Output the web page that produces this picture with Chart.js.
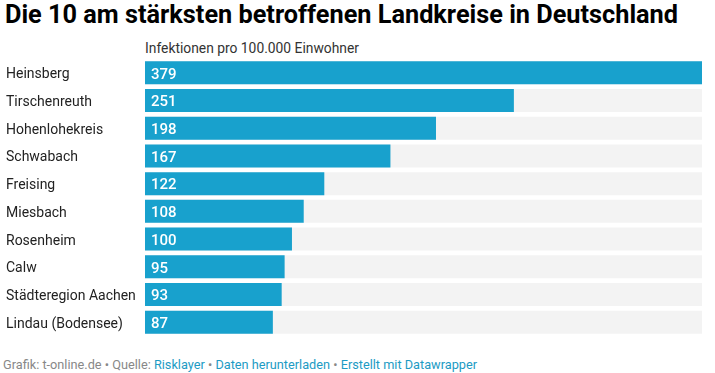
<!DOCTYPE html>
<html>
<head>
<meta charset="utf-8">
<script src="https://cdn.jsdelivr.net/npm/chart.js@4"></script>
<style>
  body { margin: 0; background: #fff; font-family: Roboto, sans-serif; }
  .wrap { position: relative; width: 715px; height: 373px; overflow: hidden; }
  .fit { position: absolute; white-space: nowrap; transform-origin: 0 0; line-height: 1; }
  .title { left: 5px; top: 1px; font-size: 26px; font-weight: 700; color: #000; }
  .sub { left: 145px; top: 41px; font-size: 14px; color: #333; }
  .foot { left: 3px; top: 358px; font-size: 13px; color: #888; }
  .foot span.l { color: #1d9bc4; }
  .box { position: absolute; left: 0; top: 59px; width: 715px; height: 277px; }
</style>
</head>
<body>
<div class="wrap">
  <div class="fit title" data-w="673">Die 10 am stärksten betroffenen Landkreise in Deutschland</div>
  <div class="fit sub" data-w="214">Infektionen pro 100.000 Einwohner</div>
  <div class="box"><canvas id="chart"></canvas></div>
  <div class="fit foot" data-w="474">Grafik: t-online.de • Quelle: <span class="l">Risklayer</span> • <span class="l">Daten herunterladen</span> • <span class="l">Erstellt mit Datawrapper</span></div>
</div>
<script>
// nudge the text blocks to the widths of the original
document.querySelectorAll('.fit').forEach(el => {
    const w = el.getBoundingClientRect().width;
    el.style.transform = 'scaleX(' + (Number(el.dataset.w) / w) + ')';
});

const landkreise = ['Heinsberg', 'Tirschenreuth', 'Hohenlohekreis', 'Schwabach', 'Freising',
    'Miesbach', 'Rosenheim', 'Calw', 'Städteregion Aachen', 'Lindau (Bodensee)'];
const infektionen = [379, 251, 198, 167, 122, 108, 100, 95, 93, 87];

const maxWert = Math.max(...infektionen);
const hintergrund = landkreise.map(() => maxWert);

const barColor = '#18a1cd';

// row names on the left, white values at the start of each bar
const rowLabels = {
    id: 'rowLabels',
    afterDatasetsDraw(chart) {
        const ctx = chart.ctx;
        const meta = chart.getDatasetMeta(0);
        ctx.save();
        ctx.textBaseline = 'alphabetic';
        ctx.textAlign = 'left';
        meta.data.forEach((bar, i) => {
            ctx.fillStyle = '#222';
            ctx.font = '14px Roboto';
            ctx.fillText(landkreise[i], 6, bar.y + 5.5);
            ctx.fillStyle = '#fff';
            ctx.font = '500 15px Roboto';
            ctx.fillText(infektionen[i], bar.base + 6, bar.y + 5.8);
        });
        ctx.restore();
    }
};

new Chart(document.getElementById('chart'), {
    type: 'bar',
    data: {
        labels: landkreise,
        datasets: [{
            data: infektionen,
            backgroundColor: barColor,
            order: 0
        }, {
            data: hintergrund,
            backgroundColor: '#f3f3f3',
            order: 1
        }]
    },
    options: {
        indexAxis: 'y',
        responsive: true,
        maintainAspectRatio: false,
        animation: false,
        grouped: false,
        barPercentage: 0.83,
        categoryPercentage: 1,
        layout: { padding: { left: 6, right: 13, top: 0, bottom: 0 } },
        plugins: {
            legend: { display: false },
            tooltip: { enabled: false }
        },
        scales: {
            x: {
                display: false,
                min: 0,
                max: maxWert
            },
            y: {
                grid: { display: false, drawTicks: false },
                border: { display: false },
                ticks: { display: false },
                afterFit(scale) {
                    scale.width = 139;
                    scale.paddingTop = 0;
                    scale.paddingBottom = 0;
                }
            }
        }
    },
    plugins: [rowLabels]
});
</script>
</body>
</html>
